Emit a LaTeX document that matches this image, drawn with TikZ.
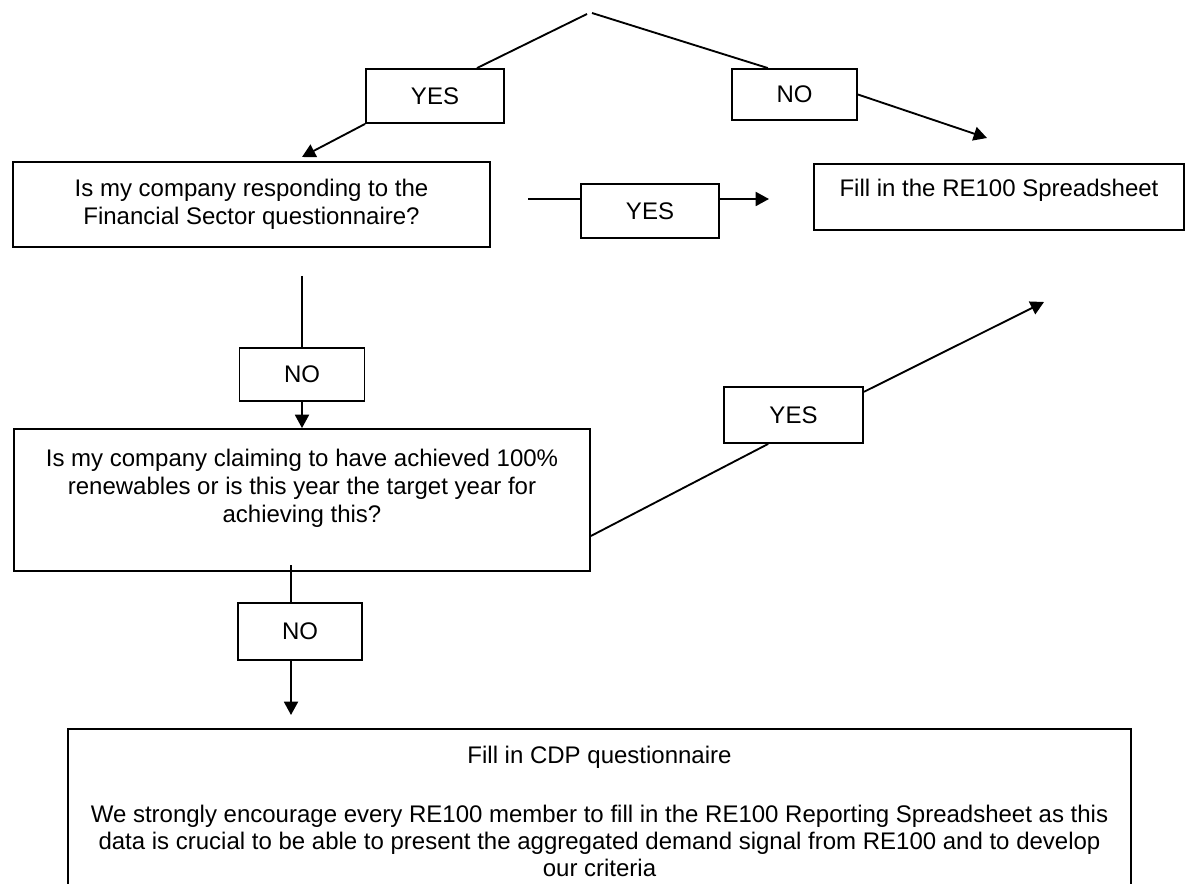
\documentclass[tikz,border=0pt]{standalone}
\usepackage{fontspec}
\setmainfont{Liberation Sans}
\usetikzlibrary{positioning,arrows.meta,calc}

\begin{document}
\begin{tikzpicture}[x=0.75pt,y=-0.75pt,
  font=\fontsize{18pt}{21pt}\selectfont,
  box/.style={draw,line width=1.4pt,align=center,inner sep=0pt},
  tag/.style={box,minimum width=93.75pt,minimum height=39pt},
  link/.style={line width=1.4pt},
  arr/.style={link,-{Triangle[length=10pt,width=10.5pt]}}]
  \useasboundingbox (0,0) rectangle (1186,884);
  \clip (0,0) rectangle (1186,884);
  % questions and outcomes
  \node[box,minimum width=357.75pt,minimum height=63.75pt] (q1) at (251.5,204.5) {Is my company responding to the\\Financial Sector questionnaire?};
  \node[box,minimum width=277.5pt,text height=24.75pt,text depth=24.75pt] (fill) at (999,197) {Fill in the RE100 Spreadsheet};
  \node[box,minimum width=432pt,minimum height=106.5pt] (q2) at (302,500) {Is my company claiming to have achieved 100\%\\renewables or is this year the target year for\\achieving this?\\\mbox{}};
  \node[box,anchor=north,minimum width=797.25pt,inner ysep=13pt] (cdp) at (599.5,728) {Fill in CDP questionnaire\\[23pt]We strongly encourage every RE100 member to fill in the RE100 Reporting Spreadsheet as this\\[-0.5pt]data is crucial to be able to present the aggregated demand signal from RE100 and to develop\\[-0.5pt]our criteria};
  % yes / no tags
  \node[tag,minimum width=103.5pt,minimum height=40.5pt] (yes1) at (435,96) {YES};
  \node[tag,minimum height=38.25pt] (no1) at (794.5,94.5) {NO};
  \node[tag,minimum width=103.5pt,minimum height=40.5pt] (yes2) at (650,211) {YES};
  \node[tag,minimum height=39.75pt] (no2) at (302,374.5) {NO};
  \node[tag,minimum width=104.25pt,minimum height=42pt] (yes3) at (793.5,415) {YES};
  \node[tag,minimum width=93pt,minimum height=42.75pt] (no3) at (300,631.5) {NO};
  % loose ends
  \coordinate (topl) at (587,14);
  \coordinate (topr) at (592,13);
  \coordinate (q1in) at (302,157);
  \coordinate (fillin) at (987,138);
  \coordinate (q1out) at (528,199);
  \coordinate (fillleft) at (769,199);
  \coordinate (q1down) at (302,276);
  \coordinate (fillbelow) at (1044,302);
  \coordinate (q2down) at (291,565);
  \coordinate (cdpin) at (291,715);
  % connectors
  \draw[link] (topl) -- ($(yes1.north west)!0.8!(yes1.north east)$);
  \draw[link] (topr) -- ($(no1.north west)!0.29!(no1.north east)$);
  \draw[arr] (yes1.south west) -- (q1in);
  \draw[arr] (no1.east) -- (fillin);
  \draw[link] (q1out) -- (q1out -| yes2.west);
  \draw[arr] (q1out -| yes2.east) -- (fillleft);
  \draw[link] (q1down) -- (no2);
  \draw[arr] (no2) -- (q2);
  \draw[link] ($(q2.north east)!0.75!(q2.south east)$) -- ($(yes3.south west)!0.32!(yes3.south east)$);
  \draw[arr] ($(yes3.north east)!0.1!(yes3.south east)$) -- (fillbelow);
  \draw[link] (q2down) -- (q2down |- no3.north);
  \draw[arr] (q2down |- no3.south) -- (cdpin);
\end{tikzpicture}
\end{document}
